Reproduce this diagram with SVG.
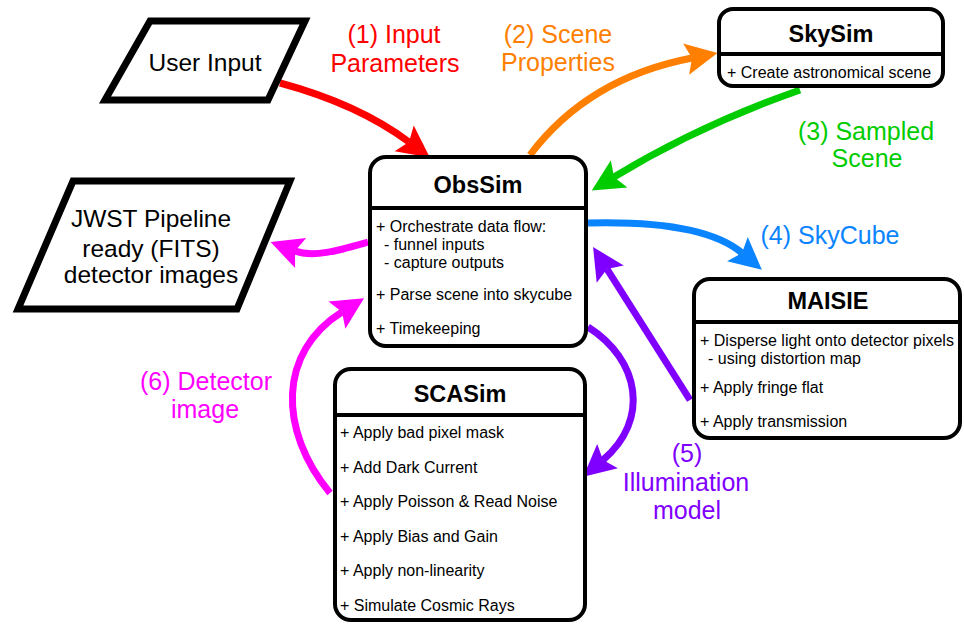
<svg xmlns="http://www.w3.org/2000/svg" width="964" height="625" viewBox="0 0 964 625">
<style>
.box{fill:#fff;stroke:#000;stroke-width:4}
.div{stroke:#000;stroke-width:4}
.para{fill:#fff;stroke:#000;stroke-width:7;stroke-linejoin:miter}
.title{font-family:"Liberation Sans",Arial,sans-serif;font-weight:bold;font-size:23.5px;text-anchor:middle;fill:#000}
.item{font-family:"Liberation Sans",Arial,sans-serif;font-size:16px;fill:#000}
.big{font-family:"Liberation Sans",Arial,sans-serif;font-size:24.5px;text-anchor:middle;fill:#000}
.lbl{font-family:"Liberation Sans",Arial,sans-serif;font-size:25px;text-anchor:middle}
.c{fill:none;stroke-width:7;stroke-linecap:butt}
</style>
<defs>
<marker id="aR" markerUnits="userSpaceOnUse" viewBox="-8 -17 36 34" markerWidth="36" markerHeight="34" refX="0" refY="0" orient="auto" overflow="visible"><path d="M0,0 L-6,-16 L26,0 L-6,16 Z" fill="#FF0000"/></marker>
<marker id="aO" markerUnits="userSpaceOnUse" viewBox="-8 -17 36 34" markerWidth="36" markerHeight="34" refX="0" refY="0" orient="auto" overflow="visible"><path d="M0,0 L-6,-16 L26,0 L-6,16 Z" fill="#FF8000"/></marker>
<marker id="aG" markerUnits="userSpaceOnUse" viewBox="-8 -17 36 34" markerWidth="36" markerHeight="34" refX="0" refY="0" orient="auto" overflow="visible"><path d="M0,0 L-6,-16 L26,0 L-6,16 Z" fill="#00CC00"/></marker>
<marker id="aB" markerUnits="userSpaceOnUse" viewBox="-8 -17 36 34" markerWidth="36" markerHeight="34" refX="0" refY="0" orient="auto" overflow="visible"><path d="M0,0 L-6,-16 L26,0 L-6,16 Z" fill="#0A84FF"/></marker>
<marker id="aP" markerUnits="userSpaceOnUse" viewBox="-8 -17 36 34" markerWidth="36" markerHeight="34" refX="0" refY="0" orient="auto" overflow="visible"><path d="M0,0 L-6,-16 L26,0 L-6,16 Z" fill="#7F00FF"/></marker>
<marker id="aM" markerUnits="userSpaceOnUse" viewBox="-8 -17 36 34" markerWidth="36" markerHeight="34" refX="0" refY="0" orient="auto" overflow="visible"><path d="M0,0 L-6,-16 L26,0 L-6,16 Z" fill="#FF00FF"/></marker>
</defs>
<rect width="964" height="625" fill="#fff"/>

<g id="connectors">
<path class="c" stroke="#FF0000" d="M280,83 Q358,104 409,142" marker-end="url(#aR)"/>
<path class="c" stroke="#FF8000" d="M530,155 Q588,78 692,58" marker-end="url(#aO)"/>
<path class="c" stroke="#00CC00" d="M800,90 Q700,125 614,177" marker-end="url(#aG)"/>
<path class="c" stroke="#0A84FF" d="M588,223 Q703,220 742,253" marker-end="url(#aB)"/>
<path class="c" stroke="#7F00FF" d="M690,400 L607,269" marker-end="url(#aP)"/>
<path class="c" stroke="#7F00FF" d="M588,327 C640,360 650,420 603,460" marker-end="url(#aP)"/>
<path class="c" stroke="#FF00FF" d="M368,242 C340,250 314,258 295,251" marker-end="url(#aM)"/>
<path class="c" stroke="#FF00FF" d="M330,493 C278,430 278,352 342,312" marker-end="url(#aM)"/>
</g>

<g id="labels">
<text class="lbl" fill="#FF0000" x="394" y="43">(1) Input</text>
<text class="lbl" fill="#FF0000" x="395" y="72">Parameters</text>
<text class="lbl" fill="#FF8000" x="558" y="43">(2) Scene</text>
<text class="lbl" fill="#FF8000" x="558" y="71">Properties</text>
<text class="lbl" fill="#00CC00" x="866" y="140">(3) Sampled</text>
<text class="lbl" fill="#00CC00" x="867" y="167">Scene</text>
<text class="lbl" fill="#0A84FF" x="830" y="244">(4) SkyCube</text>
<text class="lbl" fill="#7F00FF" x="687" y="462">(5)</text>
<text class="lbl" fill="#7F00FF" x="686" y="491">Illumination</text>
<text class="lbl" fill="#7F00FF" x="687" y="519">model</text>
<text class="lbl" fill="#FF00FF" x="206" y="390">(6) Detector</text>
<text class="lbl" fill="#FF00FF" x="205" y="418">image</text>
</g>

<g id="userInput">
<polygon class="para" points="150,21 305,21 268,100 105,100"/>
<text class="big" x="205" y="71">User Input</text>
</g>

<g id="jwst">
<polygon class="para" points="73,181 290,181 237,309 18,309"/>
<text class="big" x="151" y="227">JWST Pipeline</text>
<text class="big" x="151" y="257">ready (FITS)</text>
<text class="big" x="151" y="283">detector images</text>
</g>

<g id="skySim">
<rect class="box" x="719" y="9" width="224" height="77" rx="14"/>
<line class="div" x1="719" y1="54" x2="943" y2="54"/>
<text class="title" x="831" y="42">SkySim</text>
<text class="item" x="727" y="78">+ Create astronomical scene</text>
</g>

<g id="obsSim">
<rect class="box" x="370" y="157" width="216" height="189" rx="16"/>
<line class="div" x1="370" y1="208" x2="586" y2="208"/>
<text class="title" x="478" y="193">ObsSim</text>
<text class="item" x="376" y="232">+ Orchestrate data flow:</text>
<text class="item" x="384" y="250">- funnel inputs</text>
<text class="item" x="384" y="268">- capture outputs</text>
<text class="item" x="376" y="300">+ Parse scene into skycube</text>
<text class="item" x="376" y="334">+ Timekeeping</text>
</g>

<g id="maisie">
<rect class="box" x="694" y="279" width="266" height="159" rx="16"/>
<line class="div" x1="694" y1="322" x2="960" y2="322"/>
<text class="title" x="828" y="309">MAISIE</text>
<text class="item" x="700" y="346">+ Disperse light onto detector pixels</text>
<text class="item" x="708" y="364">- using distortion map</text>
<text class="item" x="700" y="393">+ Apply fringe flat</text>
<text class="item" x="700" y="427">+ Apply transmission</text>
</g>

<g id="scaSim">
<rect class="box" x="335" y="369" width="250" height="251" rx="16"/>
<line class="div" x1="335" y1="415" x2="585" y2="415"/>
<text class="title" x="460" y="402">SCASim</text>
<text class="item" x="340" y="438">+ Apply bad pixel mask</text>
<text class="item" x="340" y="473">+ Add Dark Current</text>
<text class="item" x="340" y="507">+ Apply Poisson &amp; Read Noise</text>
<text class="item" x="340" y="542">+ Apply Bias and Gain</text>
<text class="item" x="340" y="576">+ Apply non-linearity</text>
<text class="item" x="340" y="611">+ Simulate Cosmic Rays</text>
</g>
</svg>
